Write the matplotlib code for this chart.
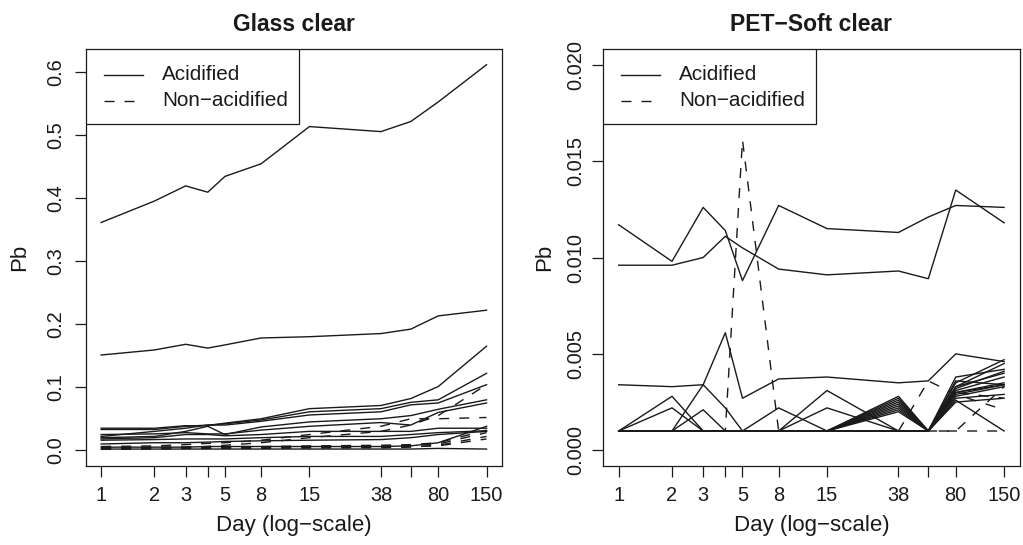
"""Pb over time in two bottle types, one line per bottle.

Acidified bottles are solid lines, non-acidified ones dashed; the day axis is
logarithmic. Base-R look: a box round each panel, outward ticks, rotated
y labels and a plain legend in the top-left corner.
"""

import matplotlib.pyplot as plt
from matplotlib.lines import Line2D
from matplotlib.patches import Rectangle

plt.switch_backend("Agg")
plt.rcParams["font.family"] = ["Liberation Sans", "DejaVu Sans"]

INK = "#1a1a1a"
LW = 1.0
DASH = (0, (7.2, 7.2))

DAYS = [1, 2, 3, 4, 5, 8, 15, 38, 56, 80, 150]
DAY_LABELS = ["1", "2", "3", "", "5", "8", "15", "38", "", "80", "150"]

GLASS_YTICKS = [0.0, 0.1, 0.2, 0.3, 0.4, 0.5, 0.6]
GLASS_YLABELS = ["0.0", "0.1", "0.2", "0.3", "0.4", "0.5", "0.6"]
PET_YTICKS = [0.0, 0.005, 0.010, 0.015, 0.020]
PET_YLABELS = ["0.000", "0.005", "0.010", "0.015", "0.020"]

GLASS_ACID = [
    [0.361, 0.395, 0.419, 0.409, 0.434, 0.454, 0.513, 0.505, 0.521, 0.552, 0.611],
    [0.151, 0.159, 0.168, 0.162, 0.167, 0.178, 0.180, 0.185, 0.192, 0.213, 0.222],
    [0.035, 0.035, 0.039, 0.039, 0.043, 0.050, 0.066, 0.071, 0.082, 0.101, 0.165],
    [0.033, 0.033, 0.038, 0.040, 0.042, 0.048, 0.061, 0.066, 0.076, 0.080, 0.122],
    [0.022, 0.030, 0.035, 0.040, 0.040, 0.046, 0.056, 0.061, 0.072, 0.075, 0.104],
    [0.020, 0.022, 0.030, 0.038, 0.025, 0.037, 0.045, 0.050, 0.055, 0.065, 0.080],
    [0.025, 0.026, 0.028, 0.026, 0.026, 0.032, 0.038, 0.044, 0.040, 0.060, 0.075],
    [0.018, 0.020, 0.025, 0.025, 0.023, 0.025, 0.030, 0.030, 0.030, 0.035, 0.035],
    [0.016, 0.017, 0.018, 0.018, 0.018, 0.020, 0.022, 0.022, 0.025, 0.028, 0.031],
    [0.010, 0.012, 0.012, 0.013, 0.014, 0.015, 0.016, 0.017, 0.020, 0.025, 0.030],
    [0.005, 0.005, 0.005, 0.006, 0.006, 0.006, 0.006, 0.006, 0.007, 0.012, 0.038],
    [0.002, 0.002, 0.002, 0.002, 0.002, 0.002, 0.002, 0.002, 0.002, 0.003, 0.002],
]
GLASS_NON = [
    [0.004, 0.004, 0.005, 0.006, 0.008, 0.012, 0.020, 0.030, 0.040, 0.055, 0.104],
    [0.006, 0.007, 0.009, 0.011, 0.012, 0.016, 0.025, 0.038, 0.050, 0.050, 0.052],
    [0.003, 0.003, 0.004, 0.004, 0.005, 0.005, 0.006, 0.007, 0.008, 0.010, 0.028],
    [0.002, 0.002, 0.003, 0.003, 0.003, 0.003, 0.004, 0.004, 0.005, 0.008, 0.022],
    [0.004, 0.005, 0.005, 0.006, 0.006, 0.006, 0.007, 0.008, 0.009, 0.012, 0.032],
    [0.002, 0.003, 0.003, 0.003, 0.004, 0.004, 0.004, 0.005, 0.006, 0.007, 0.018],
]

PET_ACID = [
    [0.0117, 0.0098, 0.0126, 0.0114, 0.0088, 0.0127, 0.0115, 0.0113, 0.0121, 0.0127, 0.0126],
    [0.0096, 0.0096, 0.0100, 0.0111, 0.0105, 0.0094, 0.0091, 0.0093, 0.0089, 0.0135, 0.0118],
    [0.0034, 0.0033, 0.0034, 0.0061, 0.0027, 0.0037, 0.0038, 0.0035, 0.0036, 0.0050, 0.0046],
    [0.0010, 0.0028, 0.0010, 0.0010, 0.0010, 0.0010, 0.0031, 0.0010, 0.0010, 0.0026, 0.0010],
    [0.0010, 0.0022, 0.0010, 0.0010, 0.0010, 0.0022, 0.0010, 0.0010, 0.0010, 0.0033, 0.0045],
    [0.0010, 0.0010, 0.0034, 0.0022, 0.0010, 0.0010, 0.0022, 0.0010, 0.0010, 0.0038, 0.0042],
    [0.0010, 0.0010, 0.0021, 0.0010, 0.0010, 0.0010, 0.0010, 0.0028, 0.0010, 0.0036, 0.0034],
    [0.0010, 0.0010, 0.0010, 0.0010, 0.0010, 0.0010, 0.0010, 0.0027, 0.0010, 0.0035, 0.0047],
    [0.0010, 0.0010, 0.0010, 0.0010, 0.0010, 0.0010, 0.0010, 0.0026, 0.0010, 0.0033, 0.0040],
    [0.0010, 0.0010, 0.0010, 0.0010, 0.0010, 0.0010, 0.0010, 0.0025, 0.0010, 0.0031, 0.0038],
    [0.0010, 0.0010, 0.0010, 0.0010, 0.0010, 0.0010, 0.0010, 0.0024, 0.0010, 0.0030, 0.0035],
    [0.0010, 0.0010, 0.0010, 0.0010, 0.0010, 0.0010, 0.0010, 0.0023, 0.0010, 0.0029, 0.0034],
    [0.0010, 0.0010, 0.0010, 0.0010, 0.0010, 0.0010, 0.0010, 0.0022, 0.0010, 0.0028, 0.0033],
    [0.0010, 0.0010, 0.0010, 0.0010, 0.0010, 0.0010, 0.0010, 0.0021, 0.0010, 0.0027, 0.0029],
    [0.0010, 0.0010, 0.0010, 0.0010, 0.0010, 0.0010, 0.0010, 0.0020, 0.0010, 0.0025, 0.0027],
    [0.0010, 0.0010, 0.0010, 0.0010, 0.0010, 0.0010, 0.0010, 0.0010, 0.0010, 0.0032, 0.0041],
    [0.0010, 0.0010, 0.0010, 0.0010, 0.0010, 0.0010, 0.0010, 0.0010, 0.0010, 0.0030, 0.0034],
]
PET_NON = [
    [0.0010, 0.0010, 0.0010, 0.0010, 0.0161, 0.0010, 0.0010, 0.0010, 0.0010, 0.0010, 0.0010],
    [0.0010, 0.0010, 0.0010, 0.0010, 0.0010, 0.0010, 0.0010, 0.0010, 0.0036, 0.0029, 0.0021],
    [0.0010, 0.0010, 0.0010, 0.0010, 0.0010, 0.0010, 0.0010, 0.0010, 0.0010, 0.0010, 0.0033],
    [0.0010, 0.0010, 0.0010, 0.0010, 0.0010, 0.0010, 0.0010, 0.0010, 0.0010, 0.0030, 0.0027],
]


def _legend(ax):
    # drawn by hand so the box sits flush in the corner, as base R does
    box = Rectangle((0, 0.82), 0.512, 0.18, transform=ax.transAxes,
                    facecolor="white", edgecolor=INK, lw=0.9, zorder=5)
    ax.add_patch(box)
    for y, ls, text in [(0.9395, "-", "Acidified"), (0.8768, DASH, "Non\u2212acidified")]:
        ax.add_line(Line2D([0.043, 0.137], [y, y], transform=ax.transAxes,
                           color=INK, lw=LW, linestyle=ls, zorder=6))
        ax.text(0.183, y, text, transform=ax.transAxes, fontsize=14.9,
                color=INK, va="center", ha="left", zorder=6)


def _panel(ax, acid, non, title, yticks, ylabels, ylim, ylabel_x, ypad):
    for s in acid:
        ax.plot(DAYS, s, color=INK, lw=LW)
    for s in non:
        ax.plot(DAYS, s, color=INK, lw=LW, linestyle=DASH)

    ax.set_xscale("log")
    ax.xaxis.set_minor_locator(plt.NullLocator())
    ax.set_xlim(0.8184, 183.3)
    ax.set_xticks(DAYS, DAY_LABELS)
    ax.set_yticks(yticks, ylabels)
    ax.set_ylim(*ylim)

    ax.tick_params(direction="out", length=8, width=0.9, color=INK,
                   labelcolor=INK, labelsize=14.4)
    ax.tick_params(axis="x", pad=6.5)
    ax.tick_params(axis="y", pad=ypad)
    plt.setp(ax.get_yticklabels(), rotation=90, va="center")
    for sp in ax.spines.values():
        sp.set_linewidth(0.9)
        sp.set_color(INK)

    ax.set_title(title, fontweight="bold", fontsize=16.5, color=INK, pad=13)
    ax.set_xlabel("Day (log\u2212scale)", fontsize=16, color=INK)
    ax.xaxis.set_label_coords(0.5, -0.118)
    ax.set_ylabel("Pb", fontsize=16, color=INK)
    ax.yaxis.set_label_coords(ylabel_x, 0.5)
    _legend(ax)


fig = plt.figure(figsize=(10.23, 5.45), dpi=100)
ax1 = fig.add_axes([0.0838, 0.1455, 0.4069, 0.7640])
ax2 = fig.add_axes([0.5897, 0.1455, 0.4069, 0.7640])

_panel(ax1, GLASS_ACID, GLASS_NON, "Glass clear", GLASS_YTICKS, GLASS_YLABELS,
       (-0.0244, 0.6354), -0.133, 6.5)
_panel(ax2, PET_ACID, PET_NON, "PET\u2212Soft clear", PET_YTICKS, PET_YLABELS,
       (-0.0008, 0.0208), -0.115, 5)

fig.savefig("out.png", dpi=100)
plt.close(fig)
